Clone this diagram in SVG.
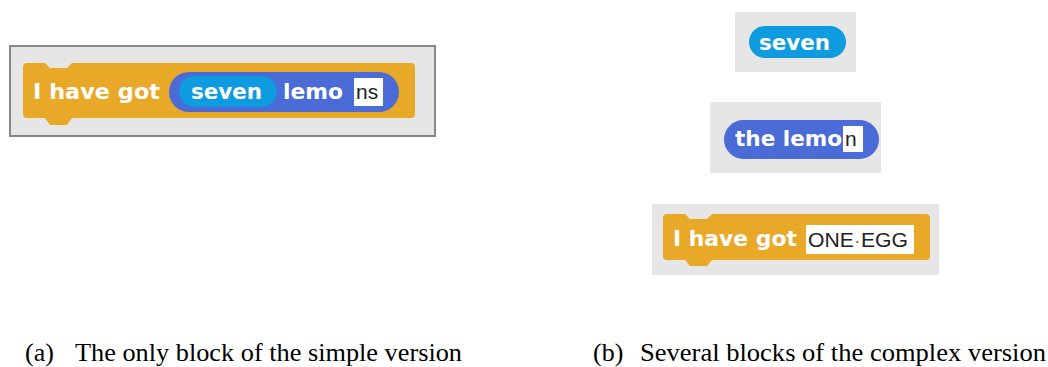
<svg xmlns="http://www.w3.org/2000/svg" width="1048" height="367" viewBox="0 0 1048 367">
<style>
.bg{fill:#e6e6e6}
.cmd{fill:#e7a927}
.op{fill:#4b6bd6}
.val{fill:#0e9be0}
.field{fill:#ffffff}
.bt{font-family:"DejaVu Sans",Verdana,sans-serif;font-weight:bold;font-size:21.5px;fill:#ffffff}
.ft{font-family:"Liberation Sans",Arial,sans-serif;font-size:21px;fill:#222222}
.cap{font-family:"Liberation Serif","Times New Roman",serif;font-size:26px;fill:#000000}
</style>
<rect width="1048" height="367" fill="#ffffff"/>

<g id="simple-version">
  <rect x="10" y="46" width="425" height="90" class="bg" stroke="#888888" stroke-width="2"/>
  <path class="cmd" d="M27 63 H45 L50 68 H67 L72 63 H411 Q415 63 415 67 V114 Q415 118 411 118 H72 L67 125 H50 L45 118 H27 Q23 118 23 114 V67 Q23 63 27 63 Z"/>
  <text x="33" y="99" class="bt" textLength="127" lengthAdjust="spacingAndGlyphs">I have got</text>
  <rect x="169" y="72" width="230" height="40" rx="20" class="op"/>
  <rect x="179" y="76" width="98" height="31" rx="15.5" class="val"/>
  <text x="191" y="99" class="bt" textLength="71" lengthAdjust="spacingAndGlyphs">seven</text>
  <text x="283" y="99" class="bt" textLength="60" lengthAdjust="spacingAndGlyphs">lemo</text>
  <rect x="354" y="78" width="29" height="28" class="field"/>
  <text x="356" y="99" class="ft">ns</text>
</g>

<g id="block-seven">
  <rect x="735" y="12" width="121" height="60" class="bg"/>
  <rect x="749" y="26" width="97" height="32" rx="16" class="val"/>
  <text x="759" y="50" class="bt" textLength="71" lengthAdjust="spacingAndGlyphs">seven</text>
</g>

<g id="block-the-lemon">
  <rect x="710" y="102" width="171" height="71" class="bg"/>
  <rect x="724" y="120" width="155" height="39" rx="19.5" class="op"/>
  <text x="735" y="146" class="bt" textLength="107" lengthAdjust="spacingAndGlyphs">the lemo</text>
  <rect x="843" y="126" width="20" height="26" class="field"/>
  <text x="845" y="146" class="ft">n</text>
</g>

<g id="block-i-have-got">
  <rect x="652" y="204" width="287" height="71" class="bg"/>
  <path class="cmd" d="M667 214 H685 L690 219 H707 L712 214 H926 Q930 214 930 218 V256 Q930 260 926 260 H712 L707 266 H690 L685 260 H667 Q663 260 663 256 V218 Q663 214 667 214 Z"/>
  <text x="673" y="246" class="bt" textLength="124" lengthAdjust="spacingAndGlyphs">I have got</text>
  <rect x="806" y="225" width="108" height="29" class="field"/>
  <text x="808" y="247" class="ft" textLength="100" lengthAdjust="spacingAndGlyphs">ONE<tspan fill="#c0606e">·</tspan>EGG</text>
</g>

<g id="connectors"></g>

<g id="captions">
  <text x="25" y="361" class="cap">(a)</text>
  <text x="75" y="361" class="cap" textLength="387" lengthAdjust="spacingAndGlyphs">The only block of the simple version</text>
  <text x="593" y="361" class="cap">(b)</text>
  <text x="640" y="361" class="cap" textLength="406" lengthAdjust="spacingAndGlyphs">Several blocks of the complex version</text>
</g>
</svg>
